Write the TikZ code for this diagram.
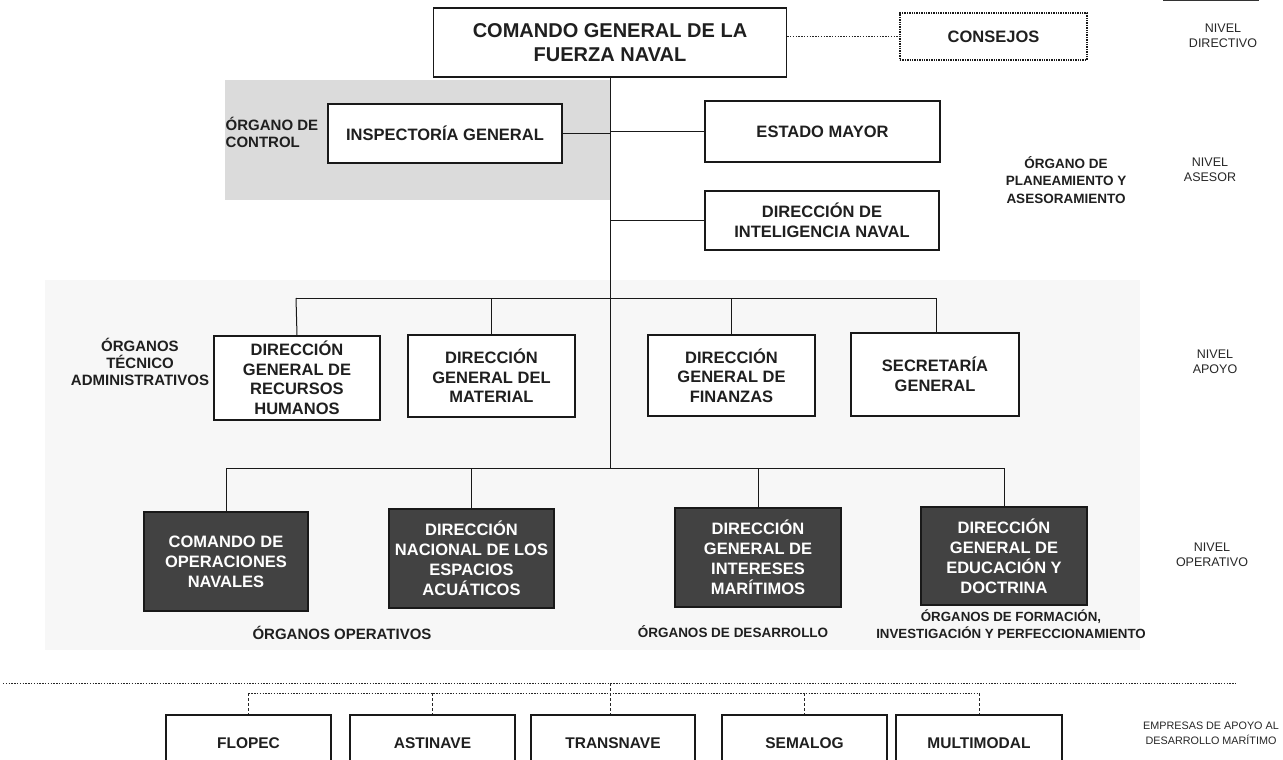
\documentclass[tikz,border=0pt]{standalone}
\usepackage{fontspec}
\setmainfont{Liberation Sans}
\begin{document}
\begin{tikzpicture}[x=1pt,y=-1pt,
  box/.style={draw=black!90,line width=1.4pt,fill=white,text=black!88,
    font=\bfseries\fontsize{16.5}{19.5}\selectfont,align=center,inner sep=0pt},
  bigbox/.style={box,font=\bfseries\fontsize{20}{24}\selectfont},
  darkbox/.style={box,fill=black!74,text=white,font=\bfseries\fontsize{16.5}{20}\selectfont},
  dotbox/.style={box,densely dotted,line width=1.2pt},
  firmbox/.style={box,font=\bfseries\fontsize{15.5}{18}\selectfont},
  side/.style={font=\bfseries\fontsize{15}{17}\selectfont,text=black!88,align=center,inner sep=0pt},
  smallside/.style={side,font=\bfseries\fontsize{13.5}{17.5}\selectfont},
  level/.style={font=\fontsize{12.5}{15}\selectfont,text=black!85,align=center,inner sep=0pt},
  link/.style={draw=black!90,line width=1pt},
  dotlink/.style={draw=black!85,line width=1pt,dash pattern=on 1.4pt off 1.4pt},
  dashlink/.style={draw=black!85,line width=0.9pt,dash pattern=on 3pt off 2pt}]
\clip (0,0) rectangle (1283,760);
\fill[white] (0,0) rectangle (1283,760);

% shaded bands
\fill[black!14] (225,80) rectangle (610,200);
\fill[black!3] (45,280) rectangle (1140,650);

% edge of a box above the page
\draw[line width=2pt,black!80] (1163,0.5) -- (1259,0.5);

% directive level
\node[bigbox,minimum width=353pt,minimum height=69pt] (cgfn) at (610,42.5)
  {COMANDO GENERAL DE LA\\FUERZA NAVAL};
\node[dotbox,minimum width=187pt,minimum height=47pt] (cons) at (993.5,36.5) {CONSEJOS};

% advisory level
\node[box,minimum width=234pt,minimum height=59pt] (insp) at (445,133.5) {INSPECTORÍA GENERAL};
\node[box,minimum width=235pt,minimum height=61pt] (em) at (822.5,131.5) {ESTADO MAYOR};
\node[box,minimum width=234pt,minimum height=59pt] (din) at (822,220.5) {DIRECCIÓN DE\\INTELIGENCIA NAVAL};

% support level
\node[box,minimum width=166pt,minimum height=84pt] (rrhh) at (297,378) {DIRECCIÓN\\GENERAL DE\\RECURSOS\\HUMANOS};
\node[box,minimum width=167pt,minimum height=82pt] (mat) at (491.5,376) {DIRECCIÓN\\GENERAL DEL\\MATERIAL};
\node[box,minimum width=167pt,minimum height=81pt] (fin) at (731.5,375.5) {DIRECCIÓN\\GENERAL DE\\FINANZAS};
\node[box,minimum width=168pt,minimum height=83pt] (sec) at (935,374.5) {SECRETARÍA\\GENERAL};

% operative level
\node[darkbox,minimum width=164pt,minimum height=99pt] (con) at (226,561.5) {COMANDO DE\\OPERACIONES\\NAVALES};
\node[darkbox,minimum width=165pt,minimum height=99pt] (dnea) at (471.5,558.5) {DIRECCIÓN\\NACIONAL DE LOS\\ESPACIOS\\ACUÁTICOS};
\node[darkbox,minimum width=166pt,minimum height=99pt] (dgim) at (758,557.5) {DIRECCIÓN\\GENERAL DE\\INTERESES\\MARÍTIMOS};
\node[darkbox,minimum width=166pt,minimum height=98pt] (dged) at (1004,556) {DIRECCIÓN\\GENERAL DE\\EDUCACIÓN Y\\DOCTRINA};

% support companies
\node[firmbox,minimum width=165pt,minimum height=57pt] (flo) at (248.5,743.5) {FLOPEC};
\node[firmbox,minimum width=165pt,minimum height=57pt] (ast) at (432.5,743.5) {ASTINAVE};
\node[firmbox,minimum width=164pt,minimum height=57pt] (tra) at (613,743.5) {TRANSNAVE};
\node[firmbox,minimum width=165pt,minimum height=57pt] (sem) at (804.5,743.5) {SEMALOG};
\node[firmbox,minimum width=166pt,minimum height=57pt] (mul) at (979,743.5) {MULTIMODAL};

% group labels
\node[side,align=left] (lctrl) at (272,132) {ÓRGANO DE\\CONTROL};
\node[smallside] (lplan) at (1066,180) {ÓRGANO DE\\PLANEAMIENTO Y\\ASESORAMIENTO};
\node[side] (ltec) at (140,362) {ÓRGANOS\\TÉCNICO\\ADMINISTRATIVOS};
\node[side] (lope) at (342,633) {ÓRGANOS OPERATIVOS};
\node[smallside] (ldes) at (733,632) {ÓRGANOS DE DESARROLLO};
\node[smallside,font=\bfseries\fontsize{13.3}{17}\selectfont] (lfor) at (1011,624) {ÓRGANOS DE FORMACIÓN,\\INVESTIGACIÓN Y PERFECCIONAMIENTO};

% level labels
\node[level] (ndir) at (1223,36) {NIVEL\\DIRECTIVO};
\node[level] (nase) at (1210,170) {NIVEL\\ASESOR};
\node[level] (napo) at (1215,362) {NIVEL\\APOYO};
\node[level] (nope) at (1212,555) {NIVEL\\OPERATIVO};
\node[level,font=\fontsize{10.8}{15}\selectfont] (nemp) at (1211,733) {EMPRESAS DE APOYO AL\\DESARROLLO MARÍTIMO};

% junction points
\coordinate (jtop) at (610,298);
\coordinate (jlow) at (610,468);
\coordinate (tl) at (296,298);
\coordinate (tr) at (936,298);
\coordinate (ol) at (226,468);
\coordinate (or) at (1004,468);
\coordinate (sepl) at (3,683);
\coordinate (sepr) at (1237,683);
\coordinate (sepm) at (610,683);
\coordinate (fl) at (248.5,693);
\coordinate (fr) at (979,693);

% hierarchy lines
\draw[link] (cgfn.south) -- (jlow);
\draw[link] (insp.east) -- (insp.east -| cgfn.south);
\draw[link] (em.west -| cgfn.south) -- (em.west);
\draw[link] (din.west -| cgfn.south) -- (din.west);
\draw[link] (tl) -- (tr);
\draw[link] (tl) -- (rrhh.north);
\draw[link] (mat.north |- tl) -- (mat.north);
\draw[link] (fin.north |- tl) -- (fin.north);
\draw[link] (tr) -- (sec.north -| tr);
\draw[link] (ol) -- (or);
\draw[link] (ol) -- (con.north);
\draw[link] (dnea.north |- ol) -- (dnea.north);
\draw[link] (dgim.north |- ol) -- (dgim.north);
\draw[link] (or) -- (dged.north);

% coordination lines
\draw[dotlink] (cgfn.east |- cons.west) -- (cons.west);
\draw[dotlink] (sepl) -- (sepr);
\draw[dashlink] (sepm) -- (sepm |- tra.north);
\draw[dotlink] (fl) -- (fr);
\draw[dashlink] (fl) -- (flo.north);
\draw[dashlink] (ast.north |- fl) -- (ast.north);
\draw[dashlink] (sem.north |- fl) -- (sem.north);
\draw[dashlink] (fr) -- (mul.north);
\end{tikzpicture}
\end{document}
